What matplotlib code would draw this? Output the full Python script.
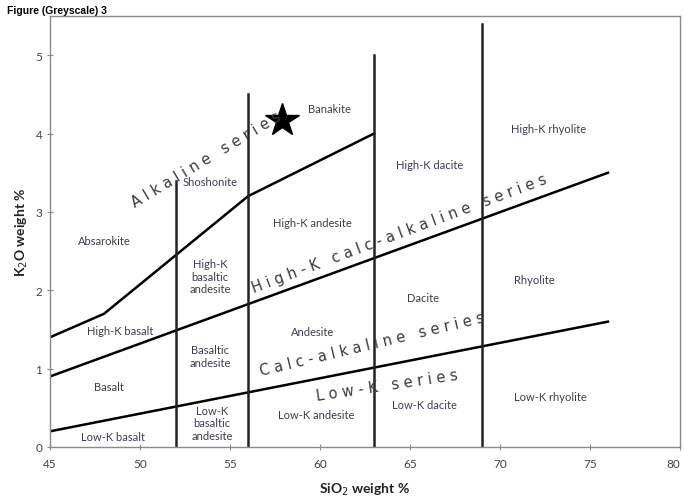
import matplotlib.pyplot as plt

# boundary lines (SiO2, K2O)
alk_x = [45, 48, 56, 63]
alk_y = [1.4, 1.7, 3.2, 4.0]
hk_x = [45, 76]
hk_y = [0.9, 3.5]
lk_x = [45, 76]
lk_y = [0.2, 1.6]

# vertical dividers: SiO2 and top K2O
div_x = [52, 56, 63, 69]
div_top = [3.4, 4.5, 5.0, 5.4]

# banakite star
star_x, star_y = 57.9, 4.17

# field names
fields = [
    ("Banakite", 60.5, 4.32),
    ("High-K rhyolite", 72.7, 4.06),
    ("High-K dacite", 66.1, 3.61),
    ("Shoshonite", 53.9, 3.39),
    ("High-K andesite", 59.6, 2.86),
    ("Absarokite", 48.0, 2.63),
    ("High-K\nbasaltic\nandesite", 53.9, 2.18),
    ("Rhyolite", 71.9, 2.14),
    ("Dacite", 65.7, 1.91),
    ("High-K basalt", 48.9, 1.49),
    ("Andesite", 59.6, 1.48),
    ("Basaltic\nandesite", 53.9, 1.16),
    ("Basalt", 48.3, 0.77),
    ("Low-K rhyolite", 72.8, 0.64),
    ("Low-K dacite", 65.8, 0.54),
    ("Low-K andesite", 59.8, 0.41),
    ("Low-K\nbasaltic\nandesite", 54.0, 0.31),
    ("Low-K basalt", 48.5, 0.13),
]

# series names (text, x, y, angle)
series = [
    ("Alkaline series", 53.7, 3.68, 31),
    ("High-K calc-alkaline series", 64.4, 2.73, 20.5),
    ("Calc-alkaline series", 62.9, 1.32, 13.5),
    ("Low-K series", 63.7, 0.79, 8.5),
]

xticks = [45, 50, 55, 60, 65, 70, 75, 80]
yticks = [0, 1, 2, 3, 4, 5]

txt = '#3c3c55'
grey = '#8a8a8a'

fig = plt.figure(figsize=(6.84, 5.02), dpi=100)
ax = fig.add_axes((50 / 684, 54 / 502, 630 / 684, 431 / 502))
ax.set_xlim(45, 80)
ax.set_ylim(0, 5.5)

ax.plot(alk_x, alk_y, color='black', lw=1.8)
ax.plot(hk_x, hk_y, color='black', lw=1.8)
ax.plot(lk_x, lk_y, color='black', lw=1.8)
for x, top in zip(div_x, div_top):
    ax.plot([x, x], [0, top], color='#222222', lw=1.8)

ax.plot(star_x, star_y, marker='*', markersize=25, color='black')

for name, x, y in fields:
    ax.text(x, y, name, ha='center', va='center', fontsize=8,
            family='Lato', color=txt, linespacing=1.15)

for name, x, y, ang in series:
    spaced = ' '.join(name)
    ax.text(x, y, spaced, ha='center', va='center', fontsize=10.5,
            family='DejaVu Sans', color='#3a3a3a', rotation=ang,
            rotation_mode='anchor')

ax.set_xticks(xticks)
ax.set_yticks(yticks)
ax.tick_params(axis='both', colors=grey, labelcolor='#444444', labelsize=8.5,
               length=4, direction='inout')
for lab in ax.get_xticklabels() + ax.get_yticklabels():
    lab.set_family('Lato')
ax.get_xticklabels()[-1].set_horizontalalignment('right')
ax.tick_params(axis='x', pad=6)
for s in ax.spines.values():
    s.set_color(grey)
    s.set_linewidth(1.0)

ax.set_xlabel('SiO$_2$ weight %', fontsize=10, family='Lato',
              fontweight='bold', color='#222222', labelpad=8)
ax.set_ylabel('K$_2$O weight %', fontsize=10, family='Lato',
              fontweight='bold', color='#222222', labelpad=4)

fig.text(0.01, 0.978, 'Figure (Greyscale) 3', fontsize=7.5, fontweight='bold',
         family='Liberation Sans', va='center')

fig.savefig('out.png', dpi=100)
